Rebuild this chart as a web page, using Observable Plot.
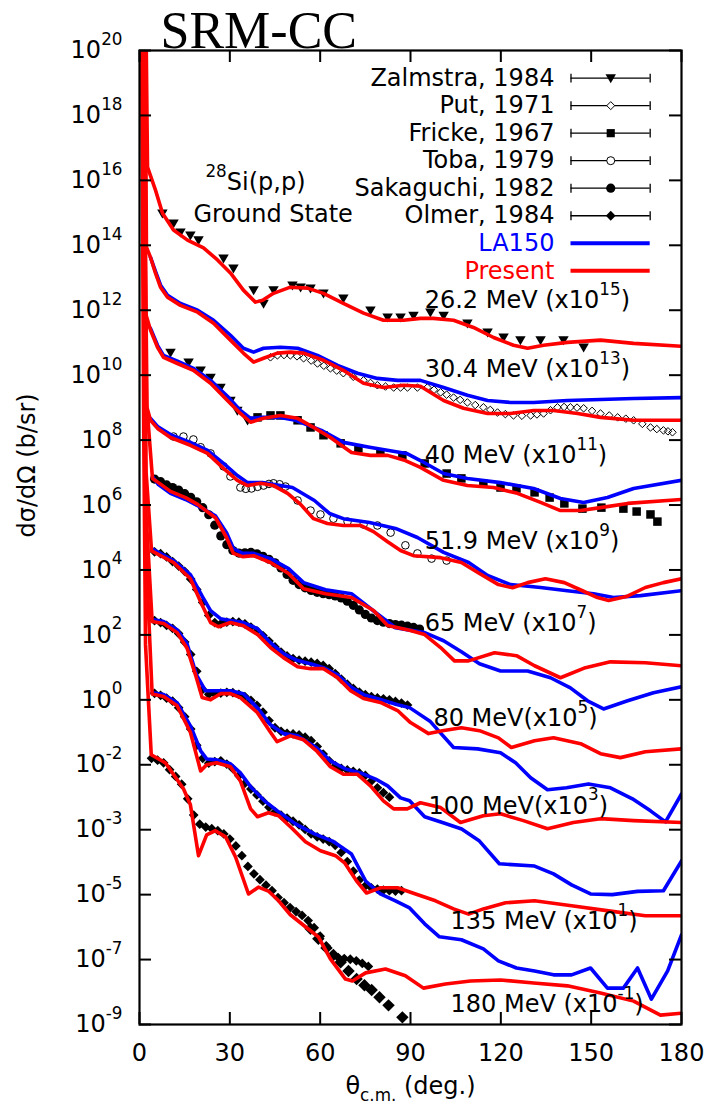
<!DOCTYPE html>
<html><head><meta charset="utf-8">
<script src="https://cdn.jsdelivr.net/npm/d3@7"></script>
<script src="https://cdn.jsdelivr.net/npm/@observablehq/plot@0.6"></script>
<style>html,body{margin:0;padding:0;background:#fff;}</style>
</head><body><div id="chart"></div>
<script>
// ---------- axis ticks ----------
const xTicks = [0, 30, 60, 90, 120, 150, 180];
const yTickExps = [20, 18, 16, 14, 12, 10, 8, 6, 4, 2, 0, -2, -4, -6, -8, -10];
const yTickLabels = ["20", "18", "16", "14", "12", "10", "8", "6", "4", "2", "0", "-2", "-3", "-5", "-7", "-9"];

// ---------- energies / labels ----------
const energyLabels = ["26.2 MeV (x10^{15})", "30.4 MeV (x10^{13})", "40 MeV (x10^{11})", "51.9 MeV (x10^{9})",
  "65 MeV (x10^{7})", "80 MeV(x10^{5})", "100 MeV(x10^{3})", "135 MeV (x10^{1})", "180 MeV (x10^{-1})"];
const energyLabelTheta = [94.7, 94.7, 94.7, 94.7, 94.7, 97.6, 96.0, 103.3, 103.3];
const energyLabelLog = [12.3, 10.18, 7.53, 4.88, 2.35, -0.58, -3.27, -6.82, -9.38];

// ---------- "Present" (red) curves: [theta, log10 of plotted dσ/dΩ] ----------
const present_26 = [[2.2,20.5],[2.66,16.41],[5.31,15.70],[7.64,14.99],[11.29,14.47],[15.94,14.16],[21.26,13.92],[25.9,13.55],[30.2,13.15],[34.5,12.62],[38.5,12.25],[40.9,12.31],[44.5,12.52],[50.1,12.71],[55.8,12.68],[61.1,12.52],[67.7,12.21],[74.4,11.91],[81.0,11.69],[87.7,11.69],[93.3,11.75],[97.6,11.75],[104.3,11.69],[110.9,11.47],[117.6,11.16],[124.2,10.92],[128.9,10.83],[134.2,10.92],[142.1,11.01],[153.1,11.08],[164.1,10.98],[180,10.89]];
const present_30 = [[1.9,20.5],[2.3,13.94],[3.65,13.63],[5.31,13.14],[6.97,12.71],[9.3,12.40],[13.6,12.15],[19.3,11.94],[24.6,11.60],[30.2,11.08],[34.5,10.68],[37.9,10.40],[41.2,10.52],[45.8,10.68],[50.1,10.71],[54.5,10.68],[61.1,10.46],[67.7,10.15],[74.4,9.75],[81.0,9.62],[87.7,9.69],[93.3,9.66],[101.0,9.22],[107.6,8.98],[115.6,8.82],[123.2,8.82],[130.9,8.91],[137.5,8.91],[145.5,8.82],[153.1,8.70],[164.1,8.61],[180,8.61]];
const present_40 = [[1.6,20.5],[2.0,11.91],[3.65,11.39],[5.98,10.86],[7.97,10.55],[12.6,10.36],[17.9,10.15],[23.6,9.75],[29.2,9.22],[33.5,8.82],[36.9,8.55],[41.2,8.67],[46.8,8.76],[52.5,8.67],[57.8,8.39],[63.4,8.08],[70.4,7.62],[76.7,7.53],[82.4,7.53],[88.3,7.37],[93.3,7.16],[101.0,6.76],[108.9,6.60],[117.6,6.54],[125.5,6.36],[133.2,6.08],[139.8,5.83],[146.5,5.83],[153.1,5.92],[162.1,6.05],[180,6.17]];
const present_52 = [[1.4,20.5],[2.3,9.07],[3.65,8.61],[6.0,8.36],[10.3,8.08],[16.9,7.84],[22.6,7.59],[27.9,7.13],[32.5,6.76],[35.9,6.60],[40.2,6.67],[44.5,6.60],[49.2,6.36],[53.5,6.02],[57.8,5.58],[62.4,5.43],[67.7,5.37],[73.4,5.37],[77.7,5.18],[82.4,4.87],[86.7,4.60],[91.0,4.44],[100.0,4.38],[106.9,4.23],[112.9,3.89],[119.2,3.55],[123.9,3.45],[128.9,3.61],[134.8,3.73],[141.1,3.61],[147.1,3.36],[152.1,3.15],[155.8,3.06],[161.7,3.18],[168.0,3.46],[174.0,3.61],[180,3.73]];
const present_65 = [[1.2,20.5],[2.5,9.0],[4.3,6.82],[6.3,6.69],[10.3,6.42],[15.3,6.23],[19.3,6.02],[25.2,5.61],[28.9,5.0],[31.2,4.51],[34.2,4.41],[37.9,4.44],[43.5,4.23],[49.5,3.89],[54.5,3.42],[61.8,3.27],[70.4,3.15],[77.7,2.75],[82.4,2.29],[89.7,2.14],[94.7,2.01],[100.0,1.61],[104.6,1.20],[109.3,1.20],[117.9,1.45],[125.2,1.36],[131.2,1.05],[139.8,0.68],[148.1,0.99],[156.4,1.17],[168.0,1.14],[180,1.05]];
const present_80 = [[1.0,20.5],[2.2,7.0],[4.0,4.59],[11.3,4.23],[16.9,3.73],[20.9,2.90],[23.6,2.38],[26.2,2.25],[30.2,2.38],[34.5,2.28],[39.2,2.01],[43.5,1.61],[47.8,1.30],[52.5,1.02],[56.8,0.96],[61.1,0.96],[65.8,0.68],[70.1,0.28],[74.4,0.04],[80.0,-0.08],[85.7,-0.33],[90.0,-0.70],[96.0,-1.04],[100.6,-0.95],[106.9,-0.86],[112.9,-0.95],[119.2,-1.17],[123.5,-1.47],[131.2,-1.26],[137.5,-1.17],[146.5,-1.35],[153.1,-1.66],[159.7,-1.78],[168.0,-1.60],[180,-1.51]];
const present_100 = [[0.9,20.5],[2.0,6.0],[4.2,2.41],[8.0,2.35],[12.5,2.07],[15.8,1.59],[18.6,0.77],[20.8,0.07],[23.6,0.0],[26.9,0.19],[30.2,0.19],[33.5,0.07],[39.1,-0.39],[43.5,-1.0],[45.7,-1.29],[50.1,-1.11],[54.5,-1.23],[59.0,-1.59],[63.4,-2.06],[67.7,-2.29],[72.3,-2.29],[76.7,-2.65],[81.0,-3.11],[84.4,-3.36],[88.9,-3.36],[93.3,-3.17],[100.0,-3.32],[106.6,-3.78],[114.2,-3.57],[119.9,-3.51],[127.5,-3.72],[135.5,-3.97],[144.1,-3.78],[153.1,-3.66],[164.1,-3.72],[180,-3.78]];
const present_135 = [[0.8,20.5],[1.9,5.0],[4.2,0.18],[8.0,0.10],[12.5,-0.18],[16.9,-1.0],[20.3,-2.19],[22.3,-2.0],[25.6,-1.94],[30.2,-2.06],[33.5,-2.50],[36.9,-3.36],[39.2,-3.60],[42.8,-3.48],[46.2,-3.57],[50.8,-3.97],[55.1,-4.37],[60.1,-4.65],[65.1,-4.80],[68.1,-5.02],[72.1,-5.58],[75.4,-5.95],[80.0,-5.79],[85.7,-5.79],[91.7,-5.98],[98.3,-6.19],[104.3,-6.44],[109.3,-6.60],[114.2,-6.44],[121.6,-6.25],[131.2,-6.19],[143.5,-6.34],[155.8,-6.50],[168.0,-6.65],[180,-6.65]];
const present_180 = [[0.7,20.5],[1.4,8.3],[2.0,1.7],[3.0,-0.1],[3.9,-1.69],[8.6,-1.94],[14.6,-2.74],[16.9,-3.23],[19.6,-4.80],[22.3,-4.16],[25.2,-4.03],[28.6,-4.22],[31.9,-4.84],[36.2,-5.98],[39.5,-5.77],[42.8,-5.89],[46.2,-6.19],[50.1,-6.62],[55.1,-6.99],[59.4,-7.30],[63.4,-7.98],[68.4,-8.60],[70.7,-8.66],[75.1,-8.41],[81.7,-8.29],[88.3,-8.50],[94.3,-8.88],[101.6,-8.75],[109.9,-8.66],[119.9,-8.63],[130.9,-8.72],[142.1,-8.81],[153.1,-9.03],[164.1,-9.28],[173.0,-9.71],[180,-9.65]];

// ---------- LA150 (blue) curves ----------
const la150_30 = [[3.65,13.63],[5.3,13.2],[7.0,12.77],[9.3,12.46],[13.6,12.21],[19.3,12.0],[24.6,11.69],[30.2,11.23],[34.5,10.83],[37.9,10.71],[41.2,10.83],[46.8,10.86],[52.5,10.83],[59.1,10.61],[65.8,10.30],[72.4,10.06],[79.0,9.90],[85.7,9.84],[93.3,9.84],[101.0,9.62],[108.9,9.38],[115.6,9.22],[123.2,9.16],[130.9,9.16],[142.1,9.22],[153.1,9.25],[164.1,9.28],[180,9.31]];
const la150_40 = [[3.65,11.44],[5.98,10.92],[7.97,10.61],[12.6,10.43],[17.9,10.21],[23.6,9.84],[29.2,9.35],[33.5,8.91],[36.9,8.67],[40.8,8.70],[46.8,8.70],[51.8,8.61],[60.4,8.30],[67.7,7.93],[76.4,7.78],[88.7,7.59],[93.3,7.37],[101.0,6.97],[108.9,6.82],[119.9,6.69],[130.9,6.51],[139.8,6.20],[147.5,6.08],[155.4,6.23],[164.1,6.51],[180,6.76]];
const la150_52 = [[3.65,8.67],[6.0,8.42],[10.3,8.17],[16.9,7.93],[22.6,7.68],[27.9,7.28],[32.5,6.91],[35.9,6.69],[40.8,6.69],[50.8,6.54],[58.1,6.14],[63.1,5.74],[67.7,5.58],[76.4,5.46],[85.0,5.28],[92.3,5.00],[101.0,4.54],[109.3,4.23],[115.6,3.83],[123.2,3.55],[133.2,3.46],[142.1,3.36],[150.8,3.27],[157.4,3.15],[166.4,3.21],[180,3.36]];
const la150_65 = [[4.3,6.88],[6.3,6.63],[10.3,6.36],[15.3,6.17],[19.3,5.98],[25.2,5.67],[28.9,5.15],[31.2,4.66],[34.2,4.51],[37.9,4.51],[43.5,4.35],[49.5,4.04],[54.5,3.61],[61.8,3.39],[70.4,3.27],[78.4,2.69],[85.0,2.22],[94.7,2.07],[101.0,1.82],[106.9,1.48],[112.9,1.11],[119.9,0.89],[128.9,0.89],[136.5,0.68],[143.1,0.37],[148.8,-0.03],[154.1,-0.28],[162.1,-0.03],[170.7,0.22],[180,0.40]];
const la150_80 = [[4.0,4.66],[11.3,4.29],[16.9,3.86],[20.9,3.18],[23.6,2.75],[26.9,2.50],[30.2,2.44],[34.5,2.38],[39.2,2.19],[43.5,1.76],[47.8,1.42],[52.5,1.21],[56.8,1.11],[61.1,0.99],[65.8,0.77],[70.1,0.40],[74.4,0.16],[80.0,0.01],[85.7,-0.15],[89.7,-0.24],[96.6,-0.67],[104.3,-1.47],[112.3,-1.51],[119.9,-1.63],[124.9,-1.94],[129.9,-2.40],[135.5,-2.77],[141.8,-2.71],[149.1,-2.59],[156.4,-2.71],[163.7,-3.05],[169.7,-3.42],[174.7,-3.76],[180,-2.90]];
const la150_100 = [[4.2,2.47],[8.0,2.41],[12.5,2.16],[15.8,1.73],[18.9,0.77],[21.9,0.28],[25.2,0.28],[30.2,0.28],[34.5,0.19],[39.2,-0.25],[43.5,-0.77],[47.8,-1.04],[52.5,-1.11],[58.8,-1.48],[63.4,-1.88],[68.4,-2.13],[73.4,-2.25],[78.4,-2.44],[82.4,-2.65],[86.7,-3.02],[89.7,-3.11],[94.7,-3.60],[100.6,-3.78],[107.0,-3.98],[112.9,-4.35],[119.5,-5.05],[131.2,-5.12],[137.5,-5.36],[143.5,-5.70],[149.8,-5.98],[157.0,-6.0],[165.4,-5.9],[174.0,-5.88],[180,-4.96]];
const la150_135 = [[4.2,0.22],[8.0,0.16],[12.5,-0.09],[16.9,-0.80],[20.3,-1.57],[22.3,-1.82],[25.6,-1.85],[30.2,-1.97],[33.5,-2.25],[37.2,-2.71],[41.5,-3.11],[45.8,-3.42],[51.8,-3.82],[58.1,-4.13],[64.1,-4.35],[70.4,-4.75],[75.1,-5.58],[80.0,-5.98],[85.0,-6.19],[89.7,-6.41],[94.7,-6.90],[99.6,-7.30],[106.9,-7.39],[114.2,-7.67],[119.2,-8.04],[125.2,-8.26],[131.2,-8.35],[137.5,-8.47],[143.5,-8.47],[149.8,-8.26],[155.4,-8.88],[160.7,-8.88],[165.4,-8.26],[170.0,-9.22],[175.4,-8.35],[180,-7.24]];

// ---------- experimental data ----------
const zalmstra_26 = [[7.6,14.99],[11.3,14.68],[13.6,14.40],[16.9,14.31],[19.6,14.16],[27.9,13.60],[31.2,13.29],[37.9,12.62],[41.2,12.21],[44.5,12.62],[50.8,12.77],[53.5,12.71],[56.8,12.68],[61.1,12.52],[67.7,12.37],[76.7,12.0],[82.4,11.78],[86.7,11.78],[91.0,11.84],[96.6,11.94],[101.0,11.84],[108.9,11.60],[115.6,11.32],[120.9,11.17],[126.5,11.08],[133.2,11.08],[140.8,11.08],[147.5,10.86]];
const zalmstra_40 = [[10.3,10.70],[16.3,10.40],[20.3,10.15],[23.6,9.93],[26.9,9.62],[30.2,9.22],[32.5,8.91],[35.9,8.61]];
const put_30 = [[43.5,10.55],[45.8,10.61],[48.0,10.62],[50.1,10.61],[52.3,10.58],[54.5,10.52],[57.0,10.45],[59.1,10.36],[61.2,10.29],[63.4,10.21],[65.5,10.14],[67.7,10.06],[71.0,9.95],[74.4,9.84],[76.7,9.76],[79.0,9.69],[81.7,9.65],[84.4,9.62],[86.7,9.62],[89.0,9.62],[92.3,9.62],[95.6,9.62],[97.8,9.55],[100.0,9.47],[102.0,9.40],[104.3,9.31],[106.5,9.24],[108.9,9.16],[111.5,9.08],[114.2,9.01],[116.5,8.93],[118.9,8.85],[121.5,8.80],[124.2,8.76],[127.0,8.75],[129.9,8.76],[132.0,8.79],[134.2,8.82],[136.5,8.92],[138.8,9.01],[141.0,9.02],[143.1,9.01],[145.3,9.00],[147.5,8.98],[150.3,8.90],[153.1,8.82],[156.0,8.76],[158.8,8.70],[161.5,8.66],[164.1,8.61],[167.0,8.50],[169.7,8.39],[171.8,8.34],[174.0,8.30],[175.5,8.27],[177.0,8.24]];
const fricke_40 = [[39.2,8.70],[43.5,8.76],[46.8,8.76],[52.5,8.61],[56.8,8.39],[61.1,8.15],[66.8,7.90],[72.7,7.75],[80.0,7.62],[87.3,7.53],[94.7,7.28],[102.0,6.97],[106.9,6.82],[114.2,6.66],[119.9,6.54],[125.2,6.51],[131.2,6.39],[136.2,6.23],[141.1,6.05],[147.1,5.89],[153.4,5.92],[160.7,5.89],[165.1,5.80],[169.7,5.71],[172.0,5.49]];
const toba_52 = [[11.3,8.11],[14.6,8.11],[17.9,8.02],[20.3,7.78],[23.6,7.59],[27.9,7.19],[30.2,6.88],[33.5,6.54],[35.3,6.50],[37.2,6.51],[39.2,6.56],[41.2,6.60],[43.0,6.65],[44.5,6.67],[46.5,6.64],[48.5,6.57],[52.5,6.14],[56.8,5.83],[60.1,5.71],[64.4,5.58],[69.1,5.49],[74.4,5.40],[79.0,5.37],[83.4,5.15],[88.3,4.76],[92.3,4.51],[97.0,4.35],[102.0,4.29]];
const sakaguchi_65 = [[5,6.80],[7,6.72],[9,6.62],[11,6.54],[13,6.46],[15,6.35],[17,6.24],[19,6.10],[21,5.92],[23,5.70],[25,5.38],[27,5.05],[29,4.78],[31,4.60],[33,4.52],[35,4.53],[37,4.54],[39,4.50],[41,4.42],[43,4.33],[45,4.22],[47,4.06],[49,3.86],[51,3.68],[53,3.55],[55,3.45],[57,3.37],[59,3.31],[61,3.27],[63,3.24],[65,3.20],[67,3.14],[69,3.04],[71,2.91],[73,2.77],[75,2.63],[77,2.52],[79,2.44],[81,2.39],[83,2.35],[85,2.32],[87,2.30],[89,2.27],[91,2.23],[93,2.18]];
const olmer_80 = [[5,4.56],[7,4.50],[9,4.40],[11,4.26],[13,4.12],[15,3.96],[17,3.72],[19,3.40],[21,3.00],[23,2.60],[25,2.38],[27,2.34],[29,2.39],[31,2.41],[33,2.39],[35,2.34],[37,2.24],[39,2.12],[41,1.98],[43,1.81],[45,1.63],[47,1.47],[49,1.35],[51,1.27],[53,1.22],[55,1.19],[57,1.16],[59,1.12],[61,1.06],[63,0.96],[65,0.81],[67,0.64],[69,0.48],[71,0.35],[73,0.24],[75,0.16],[77,0.10],[79,0.06],[81,0.03],[83,0.0],[85,-0.05],[87,-0.10],[89,-0.16]];
const olmer_100 = [[5,2.44],[7,2.38],[9,2.29],[11,2.20],[13,2.04],[15,1.78],[17,1.40],[19,0.88],[21,0.32],[23,0.17],[25,0.18],[27,0.21],[29,0.23],[31,0.22],[33,0.17],[35,0.10],[37,-0.02],[39,-0.17],[41,-0.38],[43,-0.64],[45,-0.86],[47,-0.97],[49,-1.03],[51,-1.05],[53,-1.08],[55,-1.15],[57,-1.26],[59,-1.44],[61,-1.67],[63,-1.88],[65,-2.03],[67,-2.11],[69,-2.16],[71,-2.20],[73,-2.25],[75,-2.33],[77,-2.50],[79,-2.71],[81,-2.86],[83,-3.00]];
const olmer_135 = [[5,0.20],[7,0.14],[9,0.05],[11,-0.04],[13,-0.24],[15,-0.52],[17,-0.90],[19,-1.40],[21,-1.80],[23,-1.95],[25,-1.90],[27,-1.88],[29,-1.98],[31,-2.12],[33,-2.34],[35,-2.57],[37,-2.75],[39,-2.93],[41,-3.12],[43,-3.31],[45,-3.45],[47,-3.55],[49,-3.64],[51,-3.74],[53,-3.85],[55,-3.99],[57,-4.13],[59,-4.22],[61,-4.29],[63,-4.37],[65,-4.48],[67,-4.70],[69,-4.98],[71,-5.28],[73,-5.55],[75,-5.73],[77,-5.79],[79,-5.83],[81,-5.86],[83,-5.88],[85,-5.89],[87,-5.88]];
const olmer_180 = [[4,-1.80],[6,-1.86],[8,-1.94],[10,-2.15],[12,-2.36],[14,-2.60],[16,-3.05],[18,-3.55],[20,-3.83],[22,-3.92],[24,-3.97],[26,-4.03],[28,-4.13],[30,-4.29],[32,-4.50],[34,-4.80],[36,-5.13],[38,-5.36],[40,-5.54],[42,-5.71],[44,-5.88],[46,-6.09],[48,-6.25],[50,-6.40],[52,-6.52],[54,-6.64],[56,-6.80],[58,-7.02],[60,-7.28],[62,-7.58],[64,-7.86],[66,-7.94],[68,-7.97],[70,-7.99],[72,-8.04],[74,-8.12],[76,-8.21]];
const olmer_180_tail = [[56.8,-7.05],[59.4,-7.36],[62.1,-7.64],[64.4,-7.86],[66.8,-8.08],[69.4,-8.35],[72.1,-8.60],[74.7,-8.79],[77.1,-8.94],[79.7,-9.16],[82.7,-9.41],[87.3,-9.78]];

// ---------- legend ----------
const legendNames = ["Zalmstra, 1984", "Put, 1971", "Fricke, 1967", "Toba, 1979", "Sakaguchi, 1982", "Olmer, 1984", "LA150", "Present"];
const legendColors = ["black", "black", "black", "black", "black", "black", "#0000ff", "#ff0000"];

// ---------- layout ----------
const W = 706, H = 1107, mL = 139, mR = 25, mT = 50, mB = 83;
const fw = W - mL - mR, fh = H - mT - mB;
const RED = "#ff0000", BLUE = "#0000ff";
const FONT = "DejaVu Sans";

const pts = arr => arr.map(([t, l]) => ({theta: t, v: Math.pow(10, l)}));
const series = list => list.flatMap((arr, i) => pts(arr).map(d => ({...d, s: i})));

const presentRows = series([present_26, present_30, present_40, present_52, present_65, present_80, present_100, present_135, present_180]);
const la150Rows = series([la150_30, la150_40, la150_52, la150_65, la150_80, la150_100, la150_135]);

const labelRows = energyLabels.map((t, i) => ({text: t, theta: energyLabelTheta[i], v: Math.pow(10, energyLabelLog[i])}));

// legend layout (in axis units)
const legTextTheta = 137.8, legBar0 = 143.3, legBar1 = 169.6, legMark = 156.5;
const legRowLog = i => 19.15 - 0.848 * i;
const legRows = legendNames.map((n, i) => ({name: n, color: legendColors[i], v: Math.pow(10, legRowLog(i)), i}));
const legSym = legRows.slice(0, 6);
const capRows = legSym.flatMap(r => [{theta: legBar0, v: r.v}, {theta: legBar1, v: r.v}]);

// custom symbols
const triDown = {draw(ctx, size) { const s = Math.sqrt(size); ctx.moveTo(-s / 2, -0.36 * s); ctx.lineTo(s / 2, -0.36 * s); ctx.lineTo(0, 0.5 * s); ctx.closePath(); }};
const vBar = {draw(ctx, size) { const s = Math.sqrt(size) / 2; ctx.moveTo(0, -s); ctx.lineTo(0, s); }};

const yTickVals = yTickExps.map(e => Math.pow(10, e));
const yLabelMap = new Map(yTickVals.map((v, i) => [v, "10^{" + yTickLabels[i] + "}"]));

const xy = {x: "theta", y: "v"};

const plot = Plot.plot({
  width: W, height: H,
  marginLeft: mL, marginRight: mR, marginTop: mT, marginBottom: mB,
  style: {fontFamily: FONT, fontSize: "24px", background: "white", color: "black"},
  x: {domain: [0, 180]},
  y: {type: "log", domain: [1e-10, 1e20]},
  marks: [
    // experimental points
    Plot.dot(pts(zalmstra_26), {...xy, symbol: triDown, r: 5.9, fill: "black", stroke: "none"}),
    Plot.dot(pts(zalmstra_40), {...xy, symbol: triDown, r: 5.9, fill: "black", stroke: "none"}),
    Plot.dot(pts(put_30), {...xy, symbol: "diamond2", r: 3.4, fill: "none", stroke: "black", strokeWidth: 1}),
    Plot.dot(pts(fricke_40), {...xy, symbol: "square", r: 4.8, fill: "black", stroke: "none"}),
    Plot.dot(pts(toba_52), {...xy, symbol: "circle", r: 3.8, fill: "none", stroke: "black", strokeWidth: 1}),
    Plot.dot(pts(sakaguchi_65), {...xy, symbol: "circle", r: 4.6, fill: "black", stroke: "none"}),
    Plot.dot(pts(olmer_80), {...xy, symbol: "diamond2", r: 4.4, fill: "black", stroke: "none"}),
    Plot.dot(pts(olmer_100), {...xy, symbol: "diamond2", r: 4.4, fill: "black", stroke: "none"}),
    Plot.dot(pts(olmer_135), {...xy, symbol: "diamond2", r: 4.4, fill: "black", stroke: "none"}),
    Plot.dot(pts(olmer_180), {...xy, symbol: "diamond2", r: 4.4, fill: "black", stroke: "none"}),
    Plot.dot(pts(olmer_180_tail), {...xy, symbol: "diamond2", r: 5.6, fill: "black", stroke: "none"}),
    // calculations
    Plot.line(la150Rows, {...xy, z: "s", stroke: BLUE, strokeWidth: 3.6, clip: true}),
    Plot.line(presentRows, {...xy, z: "s", stroke: RED, strokeWidth: 3.6, clip: true}),
    // energy labels
    Plot.text(labelRows, {...xy, text: "text", textAnchor: "start", fontSize: 24, fill: "black"}),
    Plot.text(["^{28}Si(p,p)"], {x: () => 21.9, y: () => Math.pow(10, 15.94), textAnchor: "start", fontSize: 24}),
    Plot.text(["Ground State"], {x: () => 17.9, y: () => Math.pow(10, 14.95), textAnchor: "start", fontSize: 24}),
    // legend
    Plot.text(legRows, {x: () => legTextTheta, y: "v", text: "name", textAnchor: "end", fill: d => d.color === "black" ? "black" : d.color, fontSize: 24}),
    Plot.ruleY(legSym, {y: "v", x1: () => legBar0, x2: () => legBar1, stroke: "black", strokeWidth: 1.3}),
    Plot.dot(capRows, {...xy, symbol: vBar, r: 5, stroke: "black", strokeWidth: 1.3}),
    Plot.dot(legSym.filter(d => d.i === 0), {x: () => legMark, y: "v", symbol: triDown, r: 5.9, fill: "black", stroke: "none"}),
    Plot.dot(legSym.filter(d => d.i === 1), {x: () => legMark, y: "v", symbol: "diamond2", r: 3.6, fill: "white", stroke: "black", strokeWidth: 1}),
    Plot.dot(legSym.filter(d => d.i === 2), {x: () => legMark, y: "v", symbol: "square", r: 4.6, fill: "black", stroke: "none"}),
    Plot.dot(legSym.filter(d => d.i === 3), {x: () => legMark, y: "v", symbol: "circle", r: 4, fill: "white", stroke: "black", strokeWidth: 1}),
    Plot.dot(legSym.filter(d => d.i === 4), {x: () => legMark, y: "v", symbol: "circle", r: 4.6, fill: "black", stroke: "none"}),
    Plot.dot(legSym.filter(d => d.i === 5), {x: () => legMark, y: "v", symbol: "diamond2", r: 4.4, fill: "black", stroke: "none"}),
    Plot.ruleY(legRows.filter(d => d.i === 6), {y: "v", x1: () => legBar0, x2: () => legBar1, stroke: BLUE, strokeWidth: 4}),
    Plot.ruleY(legRows.filter(d => d.i === 7), {y: "v", x1: () => legBar0, x2: () => legBar1, stroke: RED, strokeWidth: 4}),
    // inner ticks
    Plot.ruleY(yTickVals, {insetRight: fw - 12, stroke: "black", strokeWidth: 2}),
    Plot.ruleY(yTickVals, {insetLeft: fw - 12, stroke: "black", strokeWidth: 2}),
    Plot.ruleX(xTicks, {insetTop: fh - 12, stroke: "black", strokeWidth: 2}),
    Plot.ruleX(xTicks, {insetBottom: fh - 12, stroke: "black", strokeWidth: 2}),
    Plot.frame({stroke: "black", strokeWidth: 2.2}),
    // axes
    Plot.axisX({ticks: xTicks, tickSize: 0, tickPadding: 19, fontSize: 24, label: null}),
    Plot.axisY({ticks: yTickVals, tickSize: 0, tickPadding: 17, fontSize: 24, label: null, tickFormat: d => yLabelMap.get(d)}),
    Plot.text(["θ_{c.m.} (deg.)"], {frameAnchor: "bottom", lineAnchor: "bottom", dy: 69, fontSize: 24}),
    Plot.text(["dσ/dΩ (b/sr)"], {frameAnchor: "left", dx: -112, rotate: -90, fontSize: 24}),
    Plot.text(["SRM-CC"], {frameAnchor: "top-left", lineAnchor: "bottom", dx: 21, dy: -3, textAnchor: "start", fontFamily: "Liberation Serif", fontSize: 52})
  ]
});
document.getElementById("chart").appendChild(plot);

// rich text: ^{...} superscript, _{...} subscript
const svgNS = "http://www.w3.org/2000/svg";
plot.querySelectorAll("text").forEach(el => {
  const s = el.textContent;
  if (!/[\^_]\{/.test(s)) return;
  const fs = parseFloat(getComputedStyle(el).fontSize) || 24;
  el.textContent = "";
  const re = /([\^_])\{([^}]*)\}/g;
  let last = 0, m, shift = 0;
  const add = (txt, kind) => {
    const t = document.createElementNS(svgNS, "tspan");
    t.textContent = txt;
    const target = kind === "^" ? -0.55 * fs : kind === "_" ? 0.33 * fs : 0;
    const dy = target - shift;
    if (dy) t.setAttribute("dy", dy.toFixed(2));
    shift = target;
    if (kind) t.setAttribute("font-size", (0.7 * fs).toFixed(1));
    el.appendChild(t);
  };
  while ((m = re.exec(s))) {
    if (m.index > last) add(s.slice(last, m.index), null);
    add(m[2], m[1]);
    last = re.lastIndex;
  }
  if (last < s.length) add(s.slice(last), null);
});
</script></body></html>
